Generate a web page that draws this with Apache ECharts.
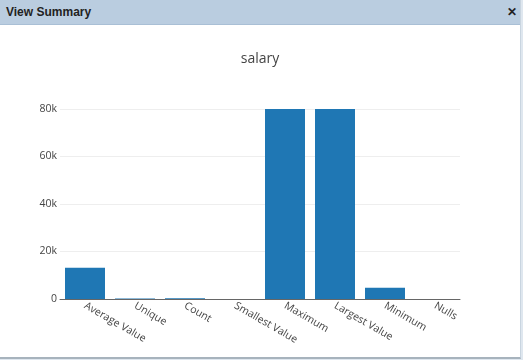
<!DOCTYPE html>
<html>
<head>
<meta charset="utf-8">
<script src="https://cdn.jsdelivr.net/npm/echarts@6/dist/echarts.min.js"></script>
<style>
html,body{margin:0;padding:0;width:523px;height:360px;overflow:hidden;background:#dfe7ef;}
#panel{position:absolute;left:0;top:0;width:520px;height:357px;background:#fff;border-right:1px solid #c9d5e0;border-bottom:2px solid #a7b3bd;}
#hdr{position:absolute;left:0;top:0;width:520px;height:24px;background:#bacde0;border-bottom:1px solid #a9bfd5;font-family:"Liberation Sans",Arial,sans-serif;font-weight:bold;font-size:12px;color:#222;}
#hdr .t{position:absolute;left:6px;top:5px;}
#hdr .x{position:absolute;left:507px;top:5px;font-size:12px;}
#chart{position:absolute;left:0;top:25px;width:520px;height:332px;}
</style>
</head>
<body>
<div id="panel">
  <div id="hdr"><span class="t">View Summary</span><span class="x">✕</span></div>
  <div id="chart"></div>
</div>
<script>
var chartTitle = "salary";
var categories = ["Average Value","Unique","Count","Smallest Value","Maximum","Largest Value","Minimum","Nulls"];
var values = [13200, 250, 300, 0, 80000, 80000, 4750, 0];
var yTicks = [0, 20000, 40000, 60000, 80000];

var chart = echarts.init(document.getElementById('chart'), null, {renderer:'canvas'});
chart.setOption({
  animation:false,
  title:{text:chartTitle,left:'center',top:22,
    textStyle:{fontFamily:'Open Sans',fontSize:14,fontWeight:'normal',color:'#444'}},
  grid:{left:60,top:84,width:400,height:190},
  xAxis:{type:'category',data:categories,
    axisLine:{lineStyle:{color:'#666',width:1}},
    axisTick:{show:false},
    axisLabel:{rotate:-30,interval:0,margin:6,fontFamily:'Open Sans',fontSize:10.5,color:'#444'}},
  yAxis:{type:'value',min:yTicks[0],max:yTicks[yTicks.length-1],interval:20000,
    axisLine:{show:false},axisTick:{show:false},
    splitLine:{lineStyle:{color:'#eeeeee',width:1}},
    axisLabel:{margin:3,fontFamily:'Open Sans',fontSize:10.5,color:'#444',
      formatter:function(v){return v===0?'0':(v/1000)+'k';}}},
  series:[{type:'bar',data:values,barCategoryGap:'20%',
    itemStyle:{color:'#1f77b4'}}]
});
</script>
</body>
</html>
